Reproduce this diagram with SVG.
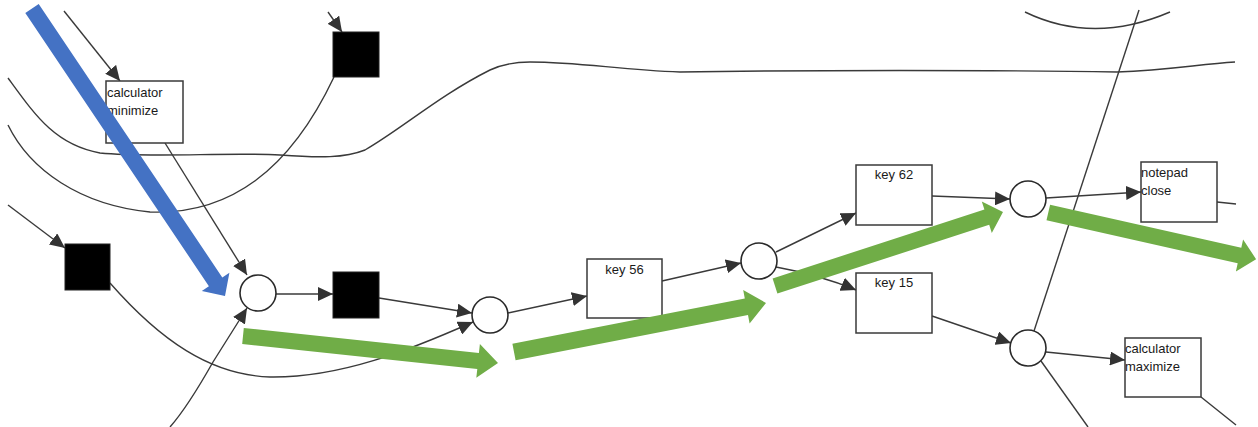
<svg xmlns="http://www.w3.org/2000/svg" width="1258" height="427" viewBox="0 0 1258 427">
<defs>
<marker id="ah" markerUnits="userSpaceOnUse" markerWidth="15" markerHeight="14" viewBox="0 0 15 14" refX="15" refY="7" orient="auto"><path d="M0,0 L15,7 L0,14 z" fill="#333"/></marker>
<style>
.ln{fill:none;stroke:#3a3a3a;stroke-width:1.4}
.ar{marker-end:url(#ah)}
.box{fill:#fff;stroke:#3a3a3a;stroke-width:1.5}
.blk{fill:#000;stroke:#222;stroke-width:1}
.pl{fill:#fff;stroke:#2a2a2a;stroke-width:1.6}
.t{font-family:"Liberation Sans",Arial,sans-serif;font-size:13px;fill:#1a1a1a}
.tc{text-anchor:middle}
.green{fill:#70AD47}
.blue{fill:#4472C4}
</style>
</defs>
<rect width="1258" height="427" fill="#fff"/>
<g id="connectors">
<path class="ln" d="M8,78 C35,115 55,145 100,153 C150,158 230,152 280,155 C320,158 345,158 365,150 C400,130 440,95 490,70 C505,63 520,62 530,62 C580,62 620,70 680,72 C800,70 1000,70 1117,72 C1170,70 1200,64 1235,62"/>
<path class="ln" d="M8,125 C30,170 80,205 150,212 C230,215 290,170 334,77"/>
<path class="ln" d="M1025,12 Q1093,45 1170,12"/>
<path class="ln" d="M1034,331 L1139,10"/>
<path class="ln" d="M1041,361 L1088,427"/>
<path class="ln" d="M1201,397 L1236,425"/>
<path class="ln" d="M1217,202 L1236,204"/>
<path class="ln ar" d="M64,11 L120,81"/>
<path class="ln ar" d="M328,12 L342,32"/>
<path class="ln ar" d="M8,205 L65,248"/>
<path class="ln ar" d="M165,143 L247,275"/>
<path class="ln ar" d="M170,427 C185,410 200,385 213,362 L247,308"/>
<path class="ln ar" d="M110,283 C160,340 210,375 270,377 C340,378 410,350 473,322"/>
<path class="ln ar" d="M276,294 L333,294"/>
<path class="ln ar" d="M379,298 L472,313"/>
<path class="ln ar" d="M508,313 L587,296"/>
<path class="ln ar" d="M662,281 L741,263"/>
<path class="ln ar" d="M776,252 L856,213"/>
<path class="ln ar" d="M776,267 Q820,275 856,290"/>
<path class="ln ar" d="M932,196 L1010,199"/>
<path class="ln ar" d="M1046,198 L1141,192"/>
<path class="ln ar" d="M932,316 L1011,343"/>
<path class="ln ar" d="M1046,352 L1125,360"/>
</g>
<g id="calc-minimize"><rect class="box" x="106" y="81" width="77" height="62"/><text class="t" x="107" y="97">calculator</text><text class="t" x="107" y="115">minimize</text></g>
<g id="sq-top"><rect class="blk" x="333" y="32" width="46" height="45"/></g>
<g id="sq-left"><rect class="blk" x="65" y="244" width="45" height="46"/></g>
<g id="sq-mid"><rect class="blk" x="333" y="272" width="46" height="46"/></g>
<g id="p1"><circle class="pl" cx="258" cy="293" r="18"/></g>
<g id="p2"><circle class="pl" cx="490" cy="315" r="18"/></g>
<g id="p3"><circle class="pl" cx="759" cy="261" r="18"/></g>
<g id="p4"><circle class="pl" cx="1028" cy="199" r="18"/></g>
<g id="p5"><circle class="pl" cx="1028" cy="348" r="18"/></g>
<g id="key56"><rect class="box" x="587" y="259" width="75" height="59"/><text class="t tc" x="624.5" y="274">key 56</text></g>
<g id="key62"><rect class="box" x="856" y="165" width="76" height="60"/><text class="t tc" x="894" y="179">key 62</text></g>
<g id="key15"><rect class="box" x="856" y="273" width="76" height="60"/><text class="t tc" x="894" y="287">key 15</text></g>
<g id="notepad-close"><rect class="box" x="1141" y="162" width="76" height="60"/><text class="t" x="1141" y="177">notepad</text><text class="t" x="1141" y="195">close</text></g>
<g id="calc-maximize"><rect class="box" x="1125" y="338" width="76" height="59"/><text class="t" x="1125" y="353">calculator</text><text class="t" x="1125" y="371">maximize</text></g>
<g id="highlight-arrows">
<polygon class="blue" points="38.7,4.1 222.3,277.4 229.4,272.7 225,296 201.8,290.9 208.9,286.2 25.3,12.9"/>
<polygon class="green" points="243.8,328 478.9,352.9 479.9,344 498,363 476.3,377.8 477.3,368.9 242.2,344"/>
<polygon class="green" points="512.4,343.7 744.8,298.5 743.2,290.1 766,303 749.6,323.5 748,315.1 515.6,360.3"/>
<polygon class="green" points="772.6,278.4 984.4,209.6 981.8,201.5 1003,212 991.8,232.9 989.2,224.8 777.4,293.6"/>
<polygon class="green" points="1050.1,204.7 1241.3,247.7 1243.1,239.4 1256.1,259.2 1235.9,271.6 1237.7,263.3 1046.5,220.3"/>
</g>
</svg>
